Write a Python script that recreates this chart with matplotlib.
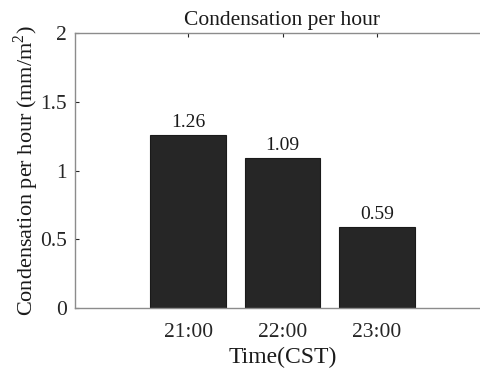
import matplotlib
matplotlib.use('Agg')
import matplotlib.pyplot as plt
import numpy as np

times = ['21:00', '22:00', '23:00']
condensation = [1.26, 1.09, 0.59]
y_ticks = [0, 0.5, 1, 1.5, 2]
y_tick_labels = ['0', '0.5', '1', '1.5', '2']

plt.rcParams['font.family'] = ['Liberation Serif', 'DejaVu Serif']
plt.rcParams['mathtext.fontset'] = 'custom'
plt.rcParams['mathtext.rm'] = 'Liberation Serif'

fig = plt.figure(figsize=(4.8, 3.69), dpi=100)
# axes runs past the right edge of the figure, like the original crop
ax = fig.add_axes([75 / 480, 61 / 369, 415 / 480, 275 / 369])

x = np.arange(1, len(times) + 1)
bars = ax.bar(x, condensation, width=0.8, color='#262626', edgecolor='#1a1a1a', linewidth=0.8)

for b, v in zip(bars, condensation):
    ax.annotate(f'{v:.2f}', (b.get_x() + b.get_width() / 2, v),
                xytext=(0, 3), textcoords='offset points',
                ha='center', va='bottom', fontsize=14, color='#1a1a1a')

ax.set_xlim(-0.2, 4.2)
ax.set_ylim(0, 2)
ax.set_xticks(x)
ax.set_xticklabels(times)
ax.set_yticks(y_ticks)
ax.set_yticklabels(y_tick_labels)

for s in ax.spines.values():
    s.set_color('#8c8c8c')
    s.set_linewidth(1)
ax.spines['right'].set_visible(False)

ax.tick_params(direction='in', length=3, color='#262626', labelsize=15.5,
               labelcolor='#262626', top=True)
ax.tick_params(axis='x', pad=11)
ax.tick_params(axis='y', pad=6)

ax.set_title('Condensation per hour', fontsize=15.5, color='#1a1a1a', pad=6)
ax.set_xlabel('Time(CST)', fontsize=17, color='#1a1a1a', labelpad=3)
ax.set_ylabel('Condensation per hour (mm/m$^2$)', fontsize=16, color='#1a1a1a', labelpad=-1)

fig.savefig('out.png', dpi=100)
